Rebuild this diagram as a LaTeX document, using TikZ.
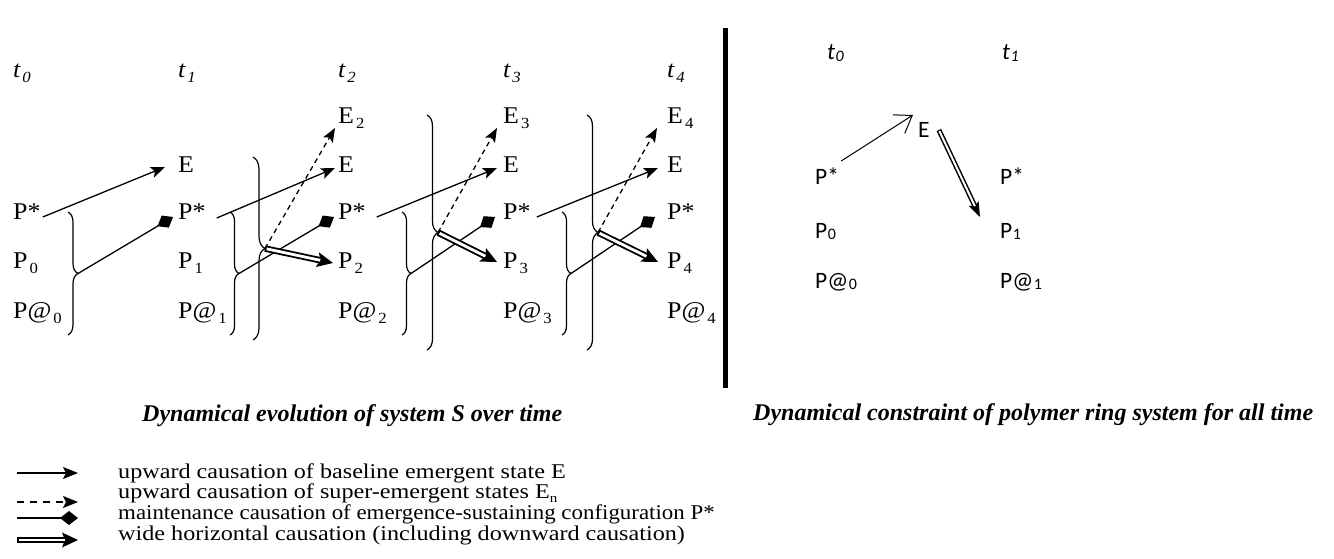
\documentclass[tikz,border=0pt]{standalone}
\usepackage{fontspec}
\setmainfont{Liberation Serif}
\newfontfamily\lblfont[FakeStretch=1.08]{Liberation Serif}
\newfontfamily\legfont[FakeStretch=1.15]{Liberation Serif}
\newfontfamily\legnfont[FakeStretch=1.09]{Liberation Serif}
\newfontfamily\calibfont{Carlito}
\usetikzlibrary{arrows.meta,decorations.pathreplacing}
\newcommand\lsub[1]{\kern2pt\raisebox{-5pt}{\fontsize{15.5}{15}\selectfont #1}}
\newcommand\rsub[1]{\kern0.5pt\raisebox{-1.5pt}{\fontsize{16}{15}\selectfont #1}}
\newcommand\dblar[2]{%
  \draw[line width=6.5pt, -{Stealth[length=16pt,width=15pt,inset=3pt,line width=0pt]}] #1 -- #2;
  \draw[white, line width=2.8pt, shorten >=13pt, shorten <=1.7pt] #1 -- #2;}
\newcommand\rdblar[2]{%
  \draw[line width=5pt, -{Stealth[length=15pt,width=11pt,inset=3pt,line width=0pt]}] #1 -- #2;
  \draw[white, line width=2pt, shorten >=12pt, shorten <=1.2pt] #1 -- #2;}
\begin{document}
\begin{tikzpicture}[x=1pt,y=-1pt,
  lbl/.style={anchor=base west, inner sep=0pt, font=\lblfont\fontsize{24}{27}\selectfont},
  rlbl/.style={anchor=base west, inner sep=0pt, font=\calibfont\fontsize{23.5}{27}\selectfont},
  leg/.style={anchor=base west, inner sep=0pt, font=\legfont\fontsize{21}{22}\selectfont},
  capt/.style={anchor=base west, inner sep=0pt, font=\bfseries\itshape\fontsize{24}{27}\selectfont},
  uarrow/.style={line width=1.3pt, -{Stealth[length=14pt,width=11pt,inset=3pt]}},
  darrow/.style={uarrow, dash pattern=on 5pt off 4pt},
  marrow/.style={line width=1.3pt, -{Turned Square[length=18pt,width=14pt]}},
  brc/.style={line width=1.2pt, decorate, decoration={brace, amplitude=#1}}]
\useasboundingbox (0,0) rectangle (1334,559);

% ---------- left diagram: labels ----------
\node[lbl] (t0) at (13,78) {\itshape t\lsub{0}};
\node[lbl] (t1) at (178,78) {\itshape t\lsub{1}};
\node[lbl] (t2) at (338,78) {\itshape t\lsub{2}};
\node[lbl] (t3) at (503,78) {\itshape t\lsub{3}};
\node[lbl] (t4) at (667,78) {\itshape t\lsub{4}};

\node[lbl] (ps0) at (13,219) {P*};
\node[lbl] (p0) at (13,268) {P\lsub{0}};
\node[lbl] (pa0) at (13,318) {P@\lsub{0}};

\node[lbl] (e1) at (178,172) {E};
\node[lbl] (ps1) at (178,219) {P*};
\node[lbl] (p1) at (178,268) {P\lsub{1}};
\node[lbl] (pa1) at (178,318) {P@\lsub{1}};

\node[lbl] (en2) at (338,124) {E\lsub{2}};
\node[lbl] (e2) at (338,172) {E};
\node[lbl] (ps2) at (338,219) {P*};
\node[lbl] (p2) at (338,268) {P\lsub{2}};
\node[lbl] (pa2) at (338,318) {P@\lsub{2}};

\node[lbl] (en3) at (503,124) {E\lsub{3}};
\node[lbl] (e3) at (503,172) {E};
\node[lbl] (ps3) at (503,219) {P*};
\node[lbl] (p3) at (503,268) {P\lsub{3}};
\node[lbl] (pa3) at (503,318) {P@\lsub{3}};

\node[lbl] (en4) at (667,124) {E\lsub{4}};
\node[lbl] (e4) at (667,172) {E};
\node[lbl] (ps4) at (667,219) {P*};
\node[lbl] (p4) at (667,268) {P\lsub{4}};
\node[lbl] (pa4) at (667,318) {P@\lsub{4}};

% ---------- braces ----------
\draw[brc=10pt] (68,212) -- (68,335);   \coordinate (bt0) at (78,273.5);
\draw[brc=9pt]  (230,212) -- (230,335); \coordinate (bt1) at (239,273.5);
\draw[brc=12pt] (253,157) -- (253,340); \coordinate (Bt1) at (265,248.5);
\draw[brc=9pt]  (402,212) -- (402,335); \coordinate (bt2) at (411,273.5);
\draw[brc=11pt] (427,115) -- (427,350); \coordinate (Bt2) at (438,232.5);
\draw[brc=9pt]  (562,212) -- (562,335); \coordinate (bt3) at (571,273.5);
\draw[brc=11pt] (587,115) -- (587,350); \coordinate (Bt3) at (598,232.5);

% ---------- maintenance causation ----------
\draw[marrow] (bt0) -- ([xshift=-5pt,yshift=2pt]ps1.base west);
\draw[marrow] (bt1) -- ([xshift=-4pt,yshift=2pt]ps2.base west);
\draw[marrow] (bt2) -- ([xshift=-8pt,yshift=2pt]ps3.base west);
\draw[marrow] (bt3) -- ([xshift=-12pt,yshift=2pt]ps4.base west);

% ---------- upward causation ----------
\draw[uarrow] ([xshift=2pt,yshift=2pt]ps0.base east) -- ([xshift=-13pt,yshift=5pt]e1.base west);
\draw[uarrow] ([xshift=11pt,yshift=1pt]ps1.base east) -- ([xshift=-3pt,yshift=4pt]e2.base west);
\draw[uarrow] ([xshift=11pt,yshift=2pt]ps2.base east) -- ([xshift=-6pt,yshift=4pt]e3.base west);
\draw[uarrow] ([xshift=6pt,yshift=2pt]ps3.base east) -- ([xshift=-9pt,yshift=4pt]e4.base west);

% ---------- super-emergent ----------
\draw[darrow] (Bt1) -- ([xshift=-3pt,yshift=-4pt]en2.base west);
\draw[darrow] (Bt2) -- ([xshift=-6pt,yshift=-4pt]en3.base west);
\draw[darrow] (Bt3) -- ([xshift=-10pt,yshift=-4pt]en4.base west);

% ---------- wide horizontal ----------
\dblar{(Bt1)}{([xshift=-5pt,yshift=5pt]p2.base west)}
\dblar{(Bt2)}{([xshift=-6pt,yshift=6pt]p3.base west)}
\dblar{(Bt3)}{([xshift=-9pt,yshift=6pt]p4.base west)}

% ---------- separator ----------
\draw[line width=5.5pt] (725.5,28) -- (725.5,388);

% ---------- right diagram ----------
\node[rlbl] (rt0) at (827,60) {\itshape t\rsub{0}};
\node[rlbl] (rt1) at (1002,60) {\itshape t\rsub{1}};
\node[rlbl] (re) at (918,138) {E};
\node[rlbl] (rps0) at (815,185) {P*};
\node[rlbl] (rp0) at (815,238) {P\rsub{0}};
\node[rlbl] (rpa0) at (815,288) {P@\rsub{0}};
\node[rlbl] (rps1) at (1000,185) {P*};
\node[rlbl] (rp1) at (1000,238) {P\rsub{1}};
\node[rlbl] (rpa1) at (1000,288) {P@\rsub{1}};

\draw[line width=1pt, -{Straight Barb[length=16pt,width=22pt]}]
  ([xshift=2pt,yshift=24pt]rps0.base east) -- ([xshift=-5pt,yshift=23pt]re.base west);
\rdblar{([xshift=9pt,yshift=8pt]re.base east)}{([xshift=-20pt,yshift=21pt]rp1.base west)}

% ---------- captions ----------
\node[capt] (capl) at (142,421) {Dynamical evolution of system S over time};
\node[capt] (capr) at (753,420) {Dynamical constraint of polymer ring system for all time};

% ---------- legend ----------
\coordinate (l1a) at (17,473); \coordinate (l1b) at (78,473);
\coordinate (l2a) at (17,502); \coordinate (l2b) at (78,502);
\coordinate (l3a) at (17,518); \coordinate (l3b) at (78,518);
\coordinate (l4a) at (17,540); \coordinate (l4b) at (78,540);
\draw[uarrow, -{Stealth[length=15pt,width=12pt,inset=3pt]}] (l1a) -- (l1b);
\draw[uarrow, -{Stealth[length=15pt,width=12pt,inset=3pt]}, dash pattern=on 7pt off 6pt] (l2a) -- (l2b);
\draw[marrow] (l3a) -- (l3b);
\dblar{(l4a)}{(l4b)}

\node[leg] (lg1) at (118,478) {upward causation of baseline emergent state E};
\node[leg] (lg2) at (118,498) {upward causation of super-emergent states E\raisebox{-4pt}{\fontsize{13}{13}\selectfont n}};
\node[leg, font=\legnfont\fontsize{21}{22}\selectfont] (lg3) at (118,519) {maintenance causation of emergence-sustaining configuration P*};
\node[leg] (lg4) at (118,540) {wide horizontal causation (including downward causation)};
\end{tikzpicture}
\end{document}
